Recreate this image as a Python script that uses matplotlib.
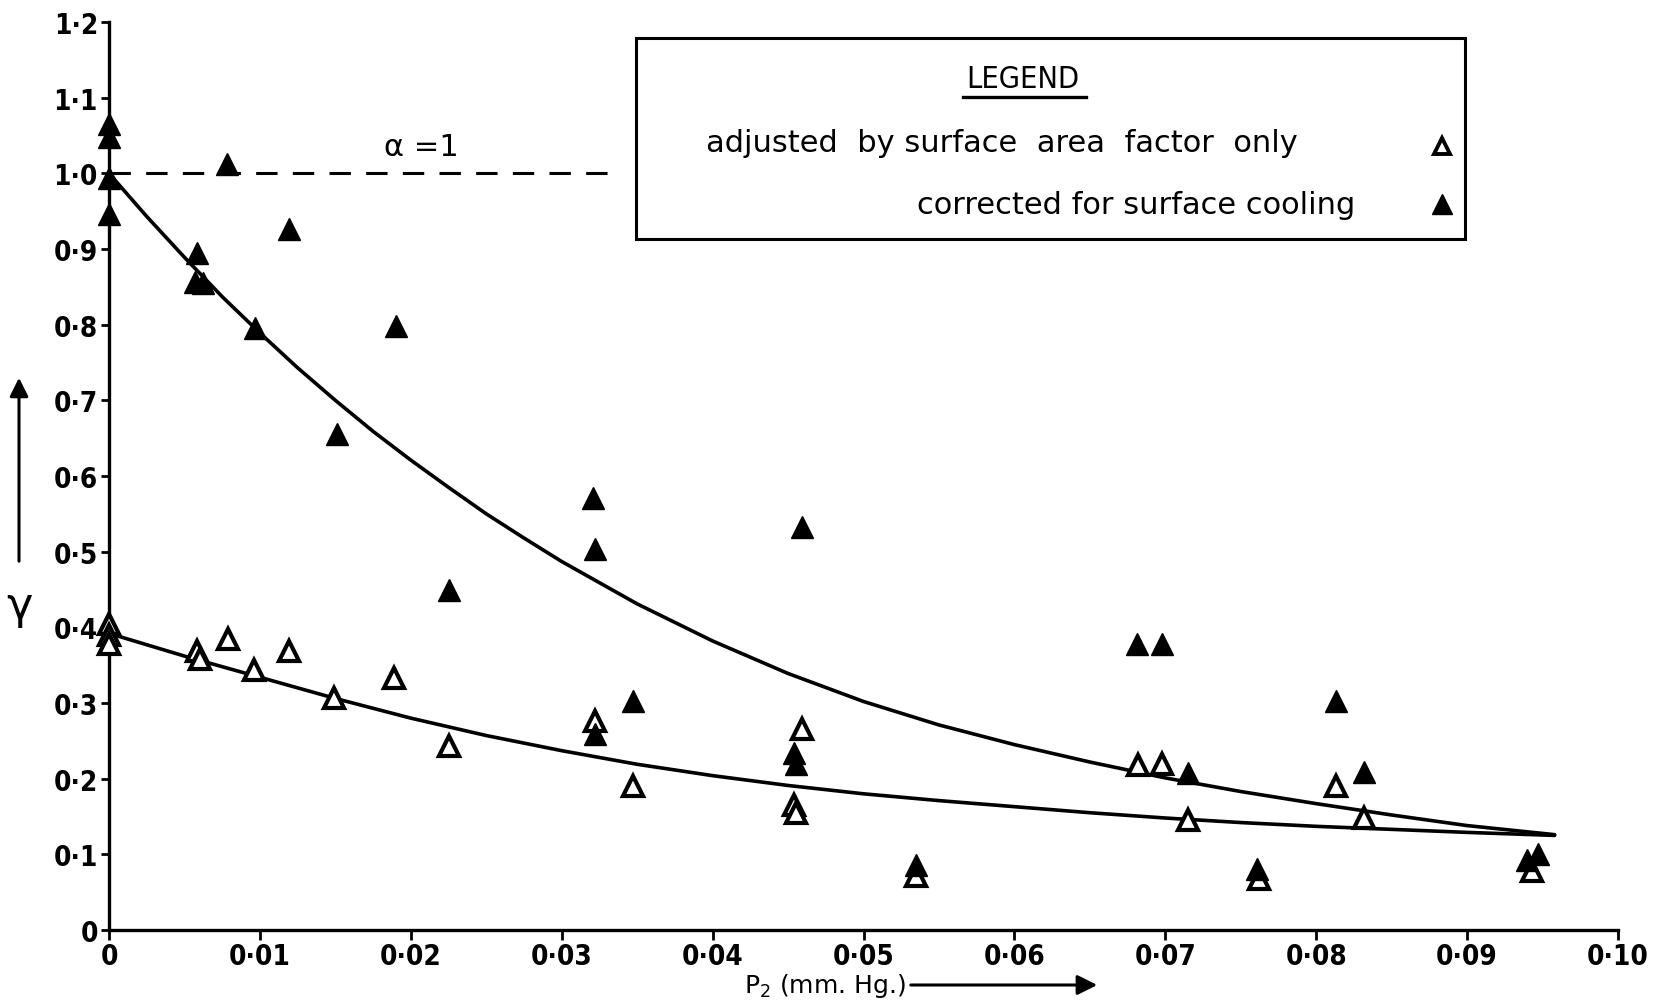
import matplotlib
matplotlib.use("Agg")
import matplotlib.pyplot as plt
from matplotlib.patches import Rectangle, FancyArrowPatch
from matplotlib.lines import Line2D
from matplotlib import font_manager

# ---------------- data ----------------
corrected_x = [0.0, 0.0, 0.0, 0.0, 0.0078, 0.0058, 0.0057, 0.0062, 0.0097, 0.0119,
               0.0151, 0.0190, 0.0225, 0.0321, 0.0322, 0.0322, 0.0347, 0.0459,
               0.0454, 0.0455, 0.0535, 0.0681, 0.0698, 0.0715, 0.0761, 0.0813,
               0.0832, 0.0940, 0.0947]
corrected_y = [1.065, 1.048, 0.994, 0.946, 1.012, 0.895, 0.857, 0.855, 0.796, 0.926,
               0.655, 0.798, 0.450, 0.571, 0.503, 0.259, 0.303, 0.532,
               0.234, 0.219, 0.086, 0.378, 0.378, 0.207, 0.080, 0.302,
               0.209, 0.093, 0.101]

adjusted_x = [0.0, 0.0, 0.0, 0.0058, 0.0060, 0.0079, 0.0096, 0.0119, 0.0149, 0.0189,
              0.0225, 0.0322, 0.0347, 0.0454, 0.0455, 0.0459, 0.0535, 0.0682,
              0.0698, 0.0715, 0.0762, 0.0813, 0.0832, 0.0943]
adjusted_y = [0.405, 0.390, 0.378, 0.369, 0.358, 0.384, 0.344, 0.369, 0.307, 0.333,
              0.243, 0.276, 0.190, 0.165, 0.155, 0.265, 0.072, 0.218,
              0.220, 0.146, 0.068, 0.190, 0.148, 0.078]

# fitted curves
upper_curve_x = [0.0, 0.0025, 0.005, 0.0075, 0.010, 0.0125, 0.015, 0.0175, 0.020,
                 0.0225, 0.025, 0.0275, 0.030, 0.035, 0.040, 0.045, 0.050, 0.055,
                 0.060, 0.065, 0.070, 0.075, 0.080, 0.085, 0.090, 0.0958]
upper_curve_y = [1.000, 0.943, 0.889, 0.837, 0.789, 0.743, 0.700, 0.659, 0.621,
                 0.585, 0.550, 0.518, 0.487, 0.431, 0.382, 0.339, 0.302, 0.271,
                 0.245, 0.222, 0.201, 0.183, 0.167, 0.152, 0.138, 0.126]
lower_curve_x = [0.0, 0.005, 0.010, 0.015, 0.020, 0.025, 0.030, 0.035, 0.040, 0.045,
                 0.050, 0.055, 0.060, 0.065, 0.070, 0.075, 0.080, 0.085, 0.090, 0.0958]
lower_curve_y = [0.392, 0.362, 0.334, 0.306, 0.280, 0.257, 0.237, 0.219, 0.204, 0.191,
                 0.180, 0.171, 0.163, 0.155, 0.148, 0.142, 0.137, 0.133, 0.129, 0.125]

alpha_line_y = 1.0
alpha_line_x = [0.0, 0.0338]

x_ticks = [0.0, 0.01, 0.02, 0.03, 0.04, 0.05, 0.06, 0.07, 0.08, 0.09, 0.10]
x_tick_labels = ["0", "0\u00b701", "0\u00b702", "0\u00b703", "0\u00b704", "0\u00b705",
                 "0\u00b706", "0\u00b707", "0\u00b708", "0\u00b709", "0\u00b710"]
y_ticks = [0.0, 0.1, 0.2, 0.3, 0.4, 0.5, 0.6, 0.7, 0.8, 0.9, 1.0, 1.1, 1.2]
y_tick_labels = ["0", "0\u00b71", "0\u00b72", "0\u00b73", "0\u00b74", "0\u00b75", "0\u00b76",
                 "0\u00b77", "0\u00b78", "0\u00b79", "1\u00b70", "1\u00b71", "1\u00b72"]

legend_labels = ["adjusted  by surface  area  factor  only",
                 "corrected for surface cooling"]

# ---------------- fonts ----------------
names = {f.name for f in font_manager.fontManager.ttflist}
narrow = "Liberation Sans Narrow" if "Liberation Sans Narrow" in names else "DejaVu Sans"
tick_family = [narrow, "DejaVu Sans"]

# ---------------- figure ----------------
W, H = 1653, 1003
fig = plt.figure(figsize=(W / 100, H / 100), dpi=100)
fig.patch.set_facecolor("white")

def fx(px):
    return px / W

def fy(py):
    return 1 - py / H

x0p, x1p = 109, 1618
y0p, y1p = 931, 23
ax = fig.add_axes([fx(x0p), fy(y0p), fx(x1p) - fx(x0p), fy(y1p) - fy(y0p)])
ax.set_xlim(0, 0.10)
ax.set_ylim(0, 1.2)
for s in ["top", "right"]:
    ax.spines[s].set_visible(False)
for s in ["left", "bottom"]:
    ax.spines[s].set_linewidth(2.4)
ax.set_facecolor("none")

tick_font = dict(family=tick_family, weight="bold", stretch="condensed", size=20)
ax.set_xticks(x_ticks)
ax.set_xticklabels(x_tick_labels, fontdict=tick_font)
ax.set_yticks(y_ticks)
ax.set_yticklabels(y_tick_labels, fontdict=tick_font)
ax.tick_params(axis="x", direction="out", length=7, width=2, pad=2)
ax.tick_params(axis="y", direction="out", length=6, width=2, pad=2)

# curves
ax.plot(upper_curve_x, upper_curve_y, color="black", lw=2.6, zorder=2,
        solid_capstyle="round", solid_joinstyle="round")
ax.plot(lower_curve_x, lower_curve_y, color="black", lw=2.6, zorder=2,
        solid_capstyle="round", solid_joinstyle="round")

# alpha = 1 dashed line
ax.plot(alpha_line_x, [alpha_line_y, alpha_line_y], color="black", lw=2.2,
        dashes=(7, 5), zorder=2)
ax.text(0.0207, 1.036, "\u03b1 =1", fontsize=22, ha="center", va="center",
        family=["DejaVu Sans"])

# points
ax.plot(adjusted_x, adjusted_y, linestyle="none", marker="^", ms=14,
        mfc="white", mec="black", mew=3.0, zorder=3, clip_on=False)
ax.plot(corrected_x, corrected_y, linestyle="none", marker="^", ms=16,
        mfc="black", mec="black", mew=1.0, zorder=4, clip_on=False)

# axis labels with arrows
fig.text(fx(19), fy(606), "\u03b3", fontsize=32, ha="center", va="center",
         family=["DejaVu Sans"])
fig.patches.append(FancyArrowPatch((fx(19), fy(565)), (fx(19), fy(376)),
                                   transform=fig.transFigure, arrowstyle="-|>",
                                   mutation_scale=28, lw=2.2, color="black"))
fig.text(fx(744), fy(986), "P$_2$ (mm. Hg.)", fontsize=18, ha="left", va="center",
         family=["DejaVu Sans"])
fig.patches.append(FancyArrowPatch((fx(908), fy(986)), (fx(1100), fy(986)),
                                   transform=fig.transFigure, arrowstyle="-|>",
                                   mutation_scale=30, lw=2.2, color="black"))

# legend box
bx0, by0, bx1, by1 = 636, 39, 1465, 240
fig.patches.append(Rectangle((fx(bx0), fy(by1)), fx(bx1) - fx(bx0), fy(by0) - fy(by1),
                             transform=fig.transFigure, fill=False, lw=2.2,
                             edgecolor="black", zorder=5))
fig.text(fx(1023), fy(80), "LEGEND", fontsize=22, ha="center", va="center",
         family=tick_family, stretch="condensed")
fig.lines.append(Line2D([fx(963), fx(1086)], [fy(98), fy(98)], transform=fig.transFigure,
                        color="black", lw=2.4))
fig.text(fx(706), fy(144), legend_labels[0], fontsize=22, ha="left", va="center",
         family=["DejaVu Sans"])
fig.text(fx(1355), fy(205), legend_labels[1], fontsize=22, ha="right", va="center",
         family=["DejaVu Sans"])
fig.lines.append(Line2D([fx(1442)], [fy(147)], transform=fig.transFigure, marker="^",
                        ms=12, mfc="white", mec="black", mew=2.8, linestyle="none"))
fig.lines.append(Line2D([fx(1442)], [fy(205)], transform=fig.transFigure, marker="^",
                        ms=15, mfc="black", mec="black", linestyle="none"))

fig.savefig("out.png", dpi=100, facecolor="white")
